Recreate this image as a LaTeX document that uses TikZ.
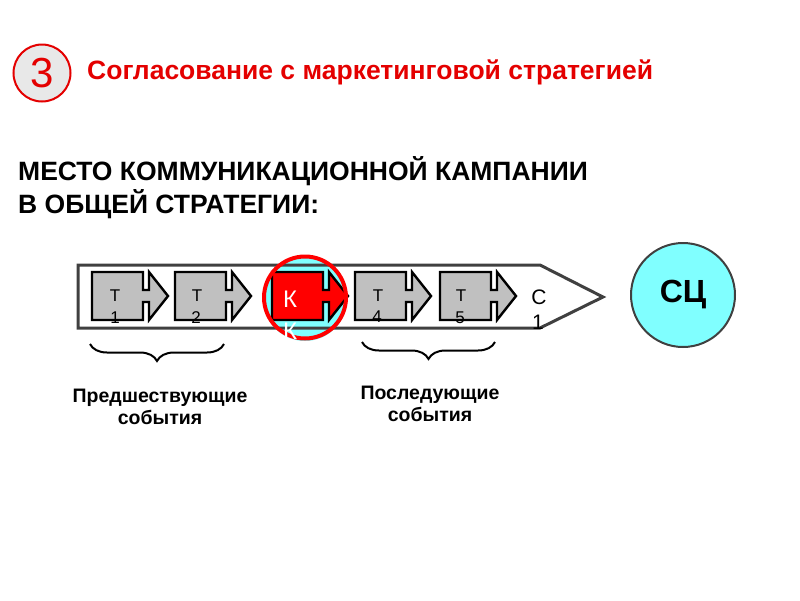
\documentclass[tikz,border=0pt]{standalone}
\usepackage{fontspec}
\setmainfont{Liberation Sans}
\usetikzlibrary{decorations.pathreplacing}
\definecolor{myred}{RGB}{228,0,0}
\definecolor{mycyan}{RGB}{128,255,255}
\definecolor{mygrey}{RGB}{192,192,192}
\definecolor{frame}{RGB}{64,64,64}
\newcommand{\evshape}{(0,0) -- (51,0) -- (51,18) -- (57,18) -- (57,0) -- (76,24) -- (57,48) -- (57,30) -- (51,30) -- (51,48) -- (0,48) -- cycle}
\tikzset{
  evbox/.style={draw=black, line width=2.4pt, line join=miter},
  evlab/.style={font=\fontsize{17}{17}\selectfont, inner sep=0pt},
  bracestyle/.style={draw=black, line width=2pt, decorate, decoration={brace, amplitude=17pt, mirror}},
  caption/.style={font=\bfseries\fontsize{19.5}{22}\selectfont, align=center, inner sep=0pt},
}
\begin{document}
\begin{tikzpicture}[x=1pt,y=-1pt]
\useasboundingbox (0,0) rectangle (800,600);
% number circle
\node[circle, draw=myred, line width=2pt, fill=black!9, minimum size=57pt, inner sep=0pt,
      text=myred, font=\fontsize{42}{42}\selectfont] (num) at (42,73) {3};
\node[anchor=west, text=myred, font=\bfseries\fontsize{26.5}{30}\selectfont, inner sep=0pt] (title) at (87,72)
  {Согласование с маркетинговой стратегией};
% heading
\node[anchor=north west, align=left, font=\bfseries\fontsize{26.5}{33}\selectfont, inner sep=0pt] (head) at (18,156)
  {МЕСТО КОММУНИКАЦИОННОЙ КАМПАНИИ\\В ОБЩЕЙ СТРАТЕГИИ:};
% big arrow
\fill[white] (78,265) -- (540,265) -- (603,297) -- (540,328) -- (78,328) -- cycle;
\fill[mycyan] (305,299) circle (42);
\draw[frame, line width=3pt] (78,265) -- (540,265) -- (603,297) -- (540,328) -- (78,328) -- cycle;
% event arrows
\begin{scope}[shift={(92,272)}]\filldraw[evbox, fill=mygrey] \evshape;\end{scope}
\begin{scope}[shift={(175,272)}]\filldraw[evbox, fill=mygrey] \evshape;\end{scope}
\begin{scope}[shift={(272,272)}]\filldraw[evbox, fill=red] \evshape;\end{scope}
\begin{scope}[shift={(355,272)}]\filldraw[evbox, fill=mygrey] \evshape;\end{scope}
\begin{scope}[shift={(440,272)}]\filldraw[evbox, fill=mygrey] \evshape;\end{scope}
\node[evlab] (t1a) at (115,296) {Т};
\node[evlab] (t1b) at (115,318) {1};
\node[evlab] (t2a) at (197,296) {Т};
\node[evlab] (t2b) at (196,318) {2};
\node[evlab] (t4a) at (378,296) {Т};
\node[evlab] (t4b) at (377,317) {4};
\node[evlab] (t5a) at (461,296) {Т};
\node[evlab] (t5b) at (460,318) {5};
\node[evlab, font=\fontsize{21}{21}\selectfont] (c1a) at (539,297) {С};
\node[evlab, font=\fontsize{21}{21}\selectfont] (c1b) at (538,322) {1};
% red ring
\draw[red, line width=4pt] (305,297.5) circle (41);
\node[evlab, text=white, font=\fontsize{24}{24}\selectfont] (ka) at (290,299) {К};
\node[evlab, text=white, font=\fontsize{24}{24}\selectfont] (kb) at (290,331) {К};
% SC circle
\node[circle, draw=frame, line width=2pt, fill=mycyan, minimum size=104pt, inner sep=0pt,
      font=\bfseries\fontsize{32}{32}\selectfont] (sc) at (683,295) {СЦ};
% braces
\coordinate (b1l) at (90,344);
\coordinate (b1r) at (224,344);
\coordinate (b2l) at (362,342);
\coordinate (b2r) at (495,342);
\draw[bracestyle] (b1l) -- (b1r);
\draw[bracestyle] (b2l) -- (b2r);
\node[caption] (prev) at (160,407) {Предшествующие\\события};
\node[caption] (next) at (430,404) {Последующие\\события};
\end{tikzpicture}
\end{document}
